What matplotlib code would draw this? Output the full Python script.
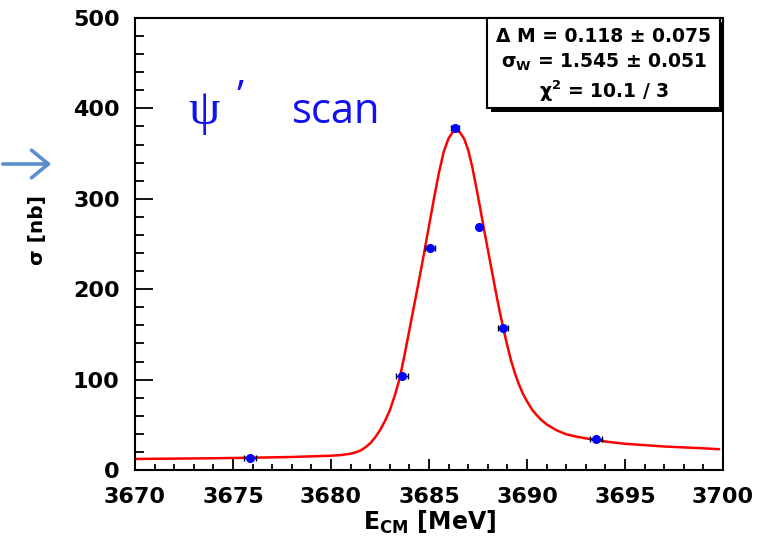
import matplotlib
matplotlib.use("Agg")
import matplotlib.pyplot as plt
from matplotlib.patches import Rectangle, FancyArrowPatch
from matplotlib.ticker import MultipleLocator

# scan points: energy (MeV), cross section (nb), horizontal error
e_cm = [3675.85, 3683.62, 3685.05, 3686.33, 3687.55, 3688.78, 3693.52]
sigma = [13, 104, 246, 378, 269, 157, 34]
e_err = [0.3, 0.3, 0.25, 0.2, 0.1, 0.25, 0.3]

# fitted line shape, sampled
fit_e = [3670.0, 3672.0, 3674.0, 3676.0, 3678.0, 3680.0, 3680.5, 3681.0,
         3681.25, 3681.5, 3681.75, 3682.0, 3682.25, 3682.5, 3682.75, 3683.0,
         3683.25, 3683.5, 3683.75, 3684.0, 3684.25, 3684.5, 3684.75, 3685.0,
         3685.25, 3685.5, 3685.75, 3686.0, 3686.2, 3686.4, 3686.6, 3686.8,
         3687.0, 3687.2, 3687.4, 3687.6, 3687.8, 3688.0, 3688.2, 3688.4,
         3688.6, 3688.8, 3689.0, 3689.2, 3689.4, 3689.6, 3689.8, 3690.0,
         3690.25, 3690.5, 3690.75, 3691.0, 3691.5, 3692.0, 3692.5, 3693.0,
         3694.0, 3695.0, 3696.0, 3697.0, 3698.0, 3699.0, 3699.8]
fit_s = [12.2, 12.6, 13.0, 13.6, 14.4, 15.8, 16.5, 18,
         19.5, 21.5, 25, 29.5, 36, 44, 54, 66,
         82, 101, 127, 155, 183, 211, 240, 270,
         300, 328, 352, 367, 373.5, 376, 373, 366,
         354, 336, 314, 291, 267, 244, 221, 198,
         176, 156, 137, 120, 106, 94, 84, 76,
         67, 60.5, 55, 50.5, 44, 39.5, 37, 35,
         31.5, 29, 27.5, 26, 25, 24, 23]

stat_lines = ["Δ M = 0.118 ± 0.075",
              r"σ$_{\mathbf{W}}$ = 1.545 ± 0.051",
              r"χ$^{\mathbf{2}}$ = 10.1 / 3"]

W, H = 765, 552
fig = plt.figure(figsize=(W / 100, H / 100), dpi=100)
ax = fig.add_axes([135 / W, 1 - 470 / H, 588 / W, 452 / H])


def fx(px):
    return px / W


def fy(py):
    return 1 - py / H


ax.plot(fit_e, fit_s, color="#ff0000", lw=1.8, zorder=2,
        solid_joinstyle="round", solid_capstyle="round")
ax.errorbar(e_cm, sigma, xerr=e_err, fmt="o", color="#0000ff", ms=5.5,
            ecolor="black", elinewidth=1, capsize=2, zorder=3)

ax.set_xlim(3670, 3700)
ax.set_ylim(0, 500)
ax.xaxis.set_major_locator(MultipleLocator(5))
ax.xaxis.set_minor_locator(MultipleLocator(1))
ax.yaxis.set_major_locator(MultipleLocator(100))
ax.yaxis.set_minor_locator(MultipleLocator(20))
ax.tick_params(which="both", direction="in", top=False, right=False,
               width=1.3, labelsize=16)
ax.tick_params(axis="x", which="major", length=8, pad=12)
ax.tick_params(axis="x", which="minor", length=4.3)
ax.tick_params(axis="y", which="major", length=13, pad=11)
ax.tick_params(axis="y", which="minor", length=6.5)
for lab in ax.get_xticklabels() + ax.get_yticklabels():
    lab.set_fontweight("bold")
for sp in ax.spines.values():
    sp.set_linewidth(1.5)

fig.text(fx(430), fy(522), r"E$_{\mathbf{CM}}$ [MeV]", ha="center",
         va="center", fontsize=17, fontweight="bold")
fig.text(fx(37), fy(230), "σ [nb]", ha="center", va="center",
         rotation=90, fontsize=14.5, fontweight="bold")

# stat box with shadow
bx0, bx1 = (487 - 135) / 588, (720 - 135) / 588
by0, by1 = (470 - 108) / 452, 1.0
ax.add_patch(Rectangle((bx0 + 4 / 588, by0 - 4 / 452), bx1 - bx0, by1 - by0,
                       transform=ax.transAxes, facecolor="black",
                       edgecolor="none", zorder=4, clip_on=False))
ax.add_patch(Rectangle((bx0, by0), bx1 - bx0, by1 - by0,
                       transform=ax.transAxes, facecolor="white",
                       edgecolor="black", lw=1.5, zorder=5, clip_on=False))
for txt, py in zip(stat_lines, [36, 62, 91]):
    fig.text(fx(604), fy(py), txt, ha="center", va="center",
             fontsize=13.5, fontweight="bold", zorder=6)

# scan label
fig.text(fx(188), fy(124), "ψ", fontsize=36, family="Liberation Serif",
         color="#1010f0", ha="left", va="baseline")
fig.text(fx(236), fy(110), "’", fontsize=30, family="Open Sans",
         color="#1010f0", ha="left", va="baseline")
fig.text(fx(292), fy(123), "scan", fontsize=30, family="Open Sans",
         color="#1010f0", ha="left", va="baseline")

# arrow pointing at the plot
fig.add_artist(FancyArrowPatch((fx(0), fy(164)), (fx(54), fy(164)),
                               transform=fig.transFigure,
                               arrowstyle="->,head_length=0.55,head_width=0.45",
                               mutation_scale=22, color="#5b8fcc", lw=2.6))

fig.savefig("out.png", dpi=100)
